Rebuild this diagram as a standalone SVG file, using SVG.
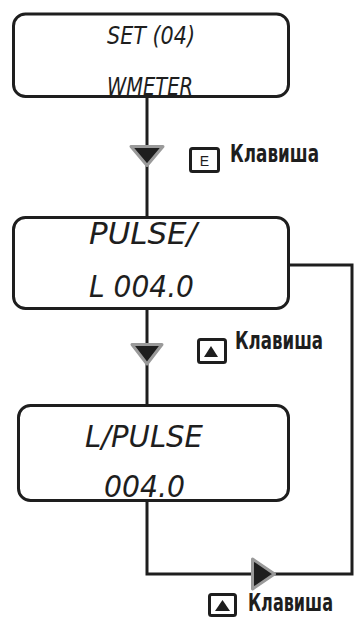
<svg xmlns="http://www.w3.org/2000/svg" width="355" height="619" viewBox="0 0 355 619">
<style>
.box{fill:#fff;stroke:#1e1e1e;stroke-width:3}
.lcd{font-family:"Liberation Sans Narrow","DejaVu Sans Condensed","Liberation Sans",sans-serif;font-style:italic;fill:#1e1e1e}
.conn{fill:none;stroke:#1e1e1e;stroke-width:3}
.tri{fill:#1e1e1e;stroke:#9a9a9a;stroke-width:3;stroke-linejoin:round}
.key{fill:#fff;stroke:#1e1e1e;stroke-width:3}
.lbl{font-family:"Liberation Sans Narrow","DejaVu Sans Condensed","Liberation Sans",sans-serif;font-weight:bold;font-size:25px;fill:#1e1e1e}
</style>
<g id="connectors">
<line class="conn" x1="147" y1="96" x2="147" y2="218"/>
<line class="conn" x1="147" y1="308" x2="147" y2="406"/>
<path class="conn" d="M147,500 V574 H352 V265 H288"/>
<polygon class="tri" points="131,146.5 163,146.5 147,165.5"/>
<polygon class="tri" points="132,344.5 162,344.5 147,364"/>
<polygon class="tri" points="252.5,559 274.5,574 252.5,589"/>
</g>
<g id="node1">
<rect class="box" x="13.5" y="14" width="275" height="82.5" rx="12"/>
<text class="lcd" x="107" y="44" font-size="25" textLength="88" lengthAdjust="spacingAndGlyphs">SET (04)</text>
<text class="lcd" x="107" y="95" font-size="25" textLength="86" lengthAdjust="spacingAndGlyphs">WMETER</text>
</g>
<g id="node2">
<rect class="box" x="13.5" y="217.5" width="275" height="91" rx="12"/>
<text class="lcd" x="89" y="244" font-size="30" textLength="108" lengthAdjust="spacingAndGlyphs">PULSE/</text>
<text class="lcd" x="89" y="297" font-size="30" textLength="105" lengthAdjust="spacingAndGlyphs">L 004.0</text>
</g>
<g id="node3">
<rect class="box" x="18.5" y="405.5" width="270" height="95" rx="12"/>
<text class="lcd" x="85" y="447" font-size="31" textLength="118" lengthAdjust="spacingAndGlyphs">L/PULSE</text>
<text class="lcd" x="104" y="497" font-size="31" textLength="81" lengthAdjust="spacingAndGlyphs">004.0</text>
</g>
<g id="key1">
<rect class="key" x="190.5" y="148.5" width="28" height="23" rx="2"/>
<text x="204.5" y="166" font-family="Liberation Sans, sans-serif" font-size="14" text-anchor="middle" fill="#1e1e1e">E</text>
<text class="lbl" x="230" y="162" textLength="89" lengthAdjust="spacingAndGlyphs">Клавиша</text>
</g>
<g id="key2">
<rect class="key" x="198.5" y="339.5" width="27" height="23" rx="2"/>
<polygon points="204,357 218,357 211,346" fill="#1e1e1e"/>
<text class="lbl" x="235" y="349" textLength="88" lengthAdjust="spacingAndGlyphs">Клавиша</text>
</g>
<g id="key3">
<rect class="key" x="209.5" y="594.5" width="26" height="21" rx="2"/>
<polygon points="215,611 230,611 222.5,600" fill="#1e1e1e"/>
<text class="lbl" x="248" y="611" font-size="21" textLength="85" lengthAdjust="spacingAndGlyphs">Клавиша</text>
</g>
</svg>
